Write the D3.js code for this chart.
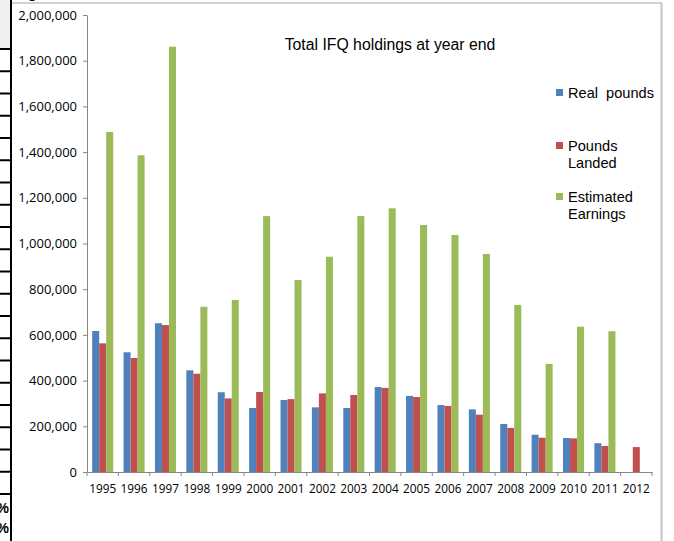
<!DOCTYPE html>
<html>
<head>
<meta charset="utf-8">
<script src="https://cdn.jsdelivr.net/npm/d3@7"></script>
<style>
  body { margin: 0; background: #fff; }
  svg { display: block; }
</style>
</head>
<body>
<div id="chart"></div>
<script>
// data
var years = ["1995","1996","1997","1998","1999","2000","2001","2002","2003",
             "2004","2005","2006","2007","2008","2009","2010","2011","2012"];
var realPounds   = [617000, 524000, 651000, 445000, 349000, 280000, 315000, 283000, 280000,
                    372000, 333000, 293000, 274000, 210000, 163000, 149000, 126000, null];
var poundsLanded = [563000, 499000, 643000, 430000, 322000, 350000, 319000, 344000, 337000,
                    368000, 328000, 289000, 251000, 193000, 150000, 147000, 114000, 109000];
var estEarnings  = [1488000, 1386000, 1861000, 723000, 753000, 1120000, 840000, 942000, 1120000,
                    1154000, 1081000, 1037000, 954000, 731000, 473000, 636000, 616000, null];
var seriesNames = ["Real\u00a0 pounds", "Pounds Landed", "Estimated Earnings"];
var yTicks = [0, 200000, 400000, 600000, 800000, 1000000, 1200000, 1400000, 1600000, 1800000, 2000000];

var colors = ["#4F81BD", "#C0504D", "#9BBB59"];
var seriesValues = [realPounds, poundsLanded, estEarnings];

var W = 674, H = 541;
var svg = d3.select("#chart").append("svg")
  .attr("width", W)
  .attr("height", H);

// bits of the page around the chart (table borders on the left)
svg.append("rect").attr("x", 0).attr("y", 0).attr("width", 10).attr("height", 48)
  .attr("fill", "#f0f0f0");
d3.range(21).forEach(function(i){
  var yy = 49 + i * 22.25;
  svg.append("line")
    .attr("x1", 0).attr("x2", 11)
    .attr("y1", yy).attr("y2", yy)
    .attr("stroke", "#000").attr("stroke-width", 2);
});
svg.append("line")
  .attr("x1", 11).attr("x2", 11).attr("y1", 0).attr("y2", H)
  .attr("stroke", "#000").attr("stroke-width", 2);
[513, 533].forEach(function(yy){
  svg.append("text").attr("x", 9).attr("y", yy)
    .attr("text-anchor", "end")
    .style("font", "bold 14px 'Liberation Sans', Arial, sans-serif")
    .text("%");
});
svg.append("text").attr("x", 28).attr("y", -2)
  .style("font", "bold 14px 'Liberation Sans', Arial, sans-serif")
  .text("g");

// chart frame
svg.append("line")
  .attr("x1", 12).attr("x2", 662).attr("y1", 3).attr("y2", 3)
  .attr("stroke", "#c3c3c3").attr("stroke-width", 1.5);
svg.append("line")
  .attr("x1", 661.5).attr("x2", 661.5).attr("y1", 3).attr("y2", H)
  .attr("stroke", "#c3c3c3").attr("stroke-width", 2);

// scales
var x = d3.scaleBand()
  .domain(years)
  .range([87, 652])
  .paddingInner(0.33)
  .paddingOuter(0.165);

var xSub = d3.scaleBand()
  .domain(d3.range(seriesNames.length))
  .range([0, x.bandwidth()])
  .padding(0);

var y = d3.scaleLinear()
  .domain([0, 2000000])
  .range([472, 15]);

// bars
seriesValues.forEach(function(vals, si){
  svg.append("g")
    .selectAll("rect")
    .data(years.map(function(yr, i){ return {year: yr, value: vals[i]}; })
               .filter(function(d){ return d.value != null; }))
    .enter()
    .append("rect")
    .attr("x", function(d){ return x(d.year) + xSub(si); })
    .attr("y", function(d){ return y(d.value); })
    .attr("width", xSub.bandwidth())
    .attr("height", function(d){ return y(0) - y(d.value); })
    .attr("fill", colors[si]);
});

// y axis
var yAxis = svg.append("g")
  .attr("transform", "translate(87,0)")
  .call(d3.axisLeft(y)
    .tickValues(yTicks)
    .tickSize(4)
    .tickSizeOuter(0)
    .tickPadding(6)
    .tickFormat(d3.format(",")));
yAxis.select(".domain").attr("stroke", "#868686");
yAxis.selectAll(".tick line").attr("stroke", "#868686");
yAxis.selectAll("text")
  .attr("fill", "#000")
  .style("font-family", "'Open Sans', sans-serif")
  .style("font-size", "13px");

// x axis: labels at band centres, ticks at band edges
var xAxis = svg.append("g")
  .attr("transform", "translate(0," + y(0) + ")")
  .call(d3.axisBottom(x).tickSize(0).tickSizeOuter(0).tickPadding(13));
xAxis.select(".domain").attr("stroke", "#868686");
xAxis.selectAll("text")
  .attr("fill", "#000")
  .style("font-family", "'Open Sans', sans-serif")
  .style("font-size", "11.8px");

var edges = years.map(function(d){ return x(d) - x.step() * x.paddingInner() / 2; })
  .concat([x.range()[1]]);
edges[0] = x.range()[0];
svg.append("g").selectAll("line")
  .data(edges)
  .enter().append("line")
  .attr("x1", function(d){ return d; })
  .attr("x2", function(d){ return d; })
  .attr("y1", y(0))
  .attr("y2", y(0) + 4)
  .attr("stroke", "#868686");

// title
svg.append("text")
  .attr("x", 390)
  .attr("y", 50)
  .attr("text-anchor", "middle")
  .style("font", "15.8px 'Liberation Sans', Arial, sans-serif")
  .text("Total IFQ holdings at year end");

// legend
var legendTops = [89, 142, 193];
var legend = svg.append("g");
seriesNames.forEach(function(name, i){
  var g = legend.append("g").attr("transform", "translate(556," + legendTops[i] + ")");
  g.append("rect").attr("width", 7).attr("height", 7).attr("fill", colors[i]);
  var lines = i === 0 ? [name] : name.split(" ");
  lines.forEach(function(ln, j){
    g.append("text")
      .attr("x", 12)
      .attr("y", 8.5 + j * 17)
      .style("font", "14.6px 'Liberation Sans', Arial, sans-serif")
      .text(ln);
  });
});
</script>
</body>
</html>
